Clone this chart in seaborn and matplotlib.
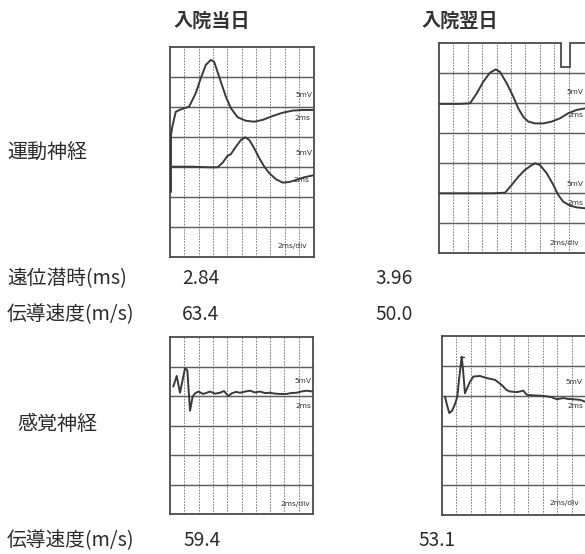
import matplotlib
matplotlib.use("Agg")
import matplotlib.pyplot as plt
import seaborn as sns
import pandas as pd

# --- 神経伝導検査データ (横軸: ms, 縦軸: 目盛り) ---
days = ["入院当日", "入院翌日"]
row_labels = ["運動神経", "感覚神経"]
latency_ms = ["2.84", "3.96"]
motor_cv = ["63.4", "50.0"]
sensory_cv = ["59.4", "53.1"]

# 運動神経 入院当日
m0_artifact_t = [0.10, 0.10]
m0_artifact_v = [4.00, 2.17]
m0_top_t = [0.10, 0.32, 0.80, 1.50, 2.66, 3.59, 4.29, 4.99, 5.69, 6.15, 6.85, 7.79,
            8.49, 9.41, 10.59, 11.75, 12.91, 14.31, 15.71, 17.10, 18.50, 19.90]
m0_top_v = [4.01, 4.34, 4.84, 4.92, 5.01, 5.46, 5.96, 6.40, 6.57, 6.51, 6.01, 5.34,
            4.96, 4.66, 4.54, 4.51, 4.57, 4.70, 4.81, 4.88, 4.90, 4.90]
m0_bot_t = [0.32, 3.12, 5.45, 6.62, 7.32, 8.02, 8.49, 9.19, 9.89, 10.49, 11.05, 11.75,
            12.45, 13.15, 13.85, 14.78, 15.71, 16.64, 17.58, 18.74, 19.90]
m0_bot_v = [3.01, 3.01, 2.99, 2.99, 3.14, 3.37, 3.43, 3.68, 3.90, 3.99, 3.90, 3.62,
            3.29, 3.01, 2.79, 2.59, 2.48, 2.50, 2.57, 2.66, 2.72]

# 運動神経 入院翌日
m1_top_t = [0.04, 1.53, 2.92, 4.31, 5.24, 6.15, 7.08, 7.88, 8.47, 9.40, 10.32, 11.01,
            11.71, 12.40, 13.33, 14.49, 15.65, 16.81, 17.96, 19.13, 20.28]
m1_top_v = [4.97, 4.97, 4.97, 4.99, 5.32, 5.71, 6.01, 6.12, 6.04, 5.66, 5.21, 4.82,
            4.54, 4.38, 4.32, 4.32, 4.38, 4.49, 4.66, 4.77, 4.82]
m1_bot_t = [0.04, 3.85, 7.54, 9.17, 10.10, 11.01, 11.94, 12.88, 13.33, 14.03, 14.96,
            15.88, 16.57, 17.26, 18.19, 19.13, 20.28]
m1_bot_v = [1.99, 1.99, 1.99, 2.01, 2.27, 2.54, 2.77, 2.93, 2.99, 2.93, 2.66,
            2.27, 1.93, 1.71, 1.58, 1.52, 1.49]

# 感覚神経 入院当日
s0_t = [0.46, 0.94, 1.40, 2.10, 2.42, 2.80, 3.17, 3.50, 3.96, 4.66, 5.59, 6.29, 6.99,
        7.55, 8.15, 8.63, 9.23, 9.79, 10.49, 11.19, 11.89, 12.59, 13.29, 13.99, 14.69,
        15.38, 16.32, 16.92, 17.72, 18.32, 19.12, 20.00]
s0_v = [4.32, 4.68, 4.11, 4.94, 4.88, 3.50, 3.98, 4.09, 4.15, 4.07, 4.15, 4.08, 4.11,
        4.17, 4.00, 4.09, 4.14, 4.11, 4.15, 4.18, 4.12, 4.15, 4.10, 4.11, 4.08,
        4.07, 4.07, 4.10, 4.11, 4.15, 4.18, 4.15]

# 感覚神経 入院翌日
s1_t = [0.42, 0.69, 1.01, 1.39, 1.81, 2.13, 2.36, 2.74, 2.92, 3.19, 3.79, 4.35, 5.28,
        6.21, 7.36, 8.29, 8.96, 9.44, 10.38, 10.83, 11.29, 11.76, 12.64, 13.61, 14.44,
        15.24, 15.93, 16.85, 17.50, 18.24, 19.17, 19.86]
s1_v = [3.97, 3.69, 3.42, 3.49, 3.72, 3.97, 4.53, 5.30, 4.87, 4.08, 4.42, 4.64, 4.66,
        4.59, 4.53, 4.36, 4.19, 4.14, 4.12, 4.14, 4.17, 4.03, 4.01, 4.00, 3.98,
        3.95, 3.88, 3.92, 3.89, 3.88, 3.86, 3.80]

W, H = 585, 554
INK = "#2b2b2b"
TRACE = "#3a3a3a"
FRAME = "#4a4a4a"


def px_axes(fig, left, top, right, bottom):
    return fig.add_axes([left / W, 1 - bottom / H, (right - left) / W, (bottom - top) / H])


def draw_grid(ax, nrows, xmax):
    ax.set_xlim(0, xmax)
    ax.set_ylim(0, nrows)
    ax.set_xticks([])
    ax.set_yticks([])
    for sp in ax.spines.values():
        sp.set_visible(True)
        sp.set_color(FRAME)
        sp.set_linewidth(1.3)
    ax.vlines(range(2, 20, 2), 0, nrows, colors="#858585", linewidth=0.75,
              linestyles=(0, (1.6, 1.2)), zorder=1)
    ax.hlines(range(1, nrows), 0, xmax, colors="#5e5e5e", linewidth=1.05, zorder=1)


def trace(ax, t, v):
    df = pd.DataFrame({"t": t, "v": v})
    sns.lineplot(data=df, x="t", y="v", ax=ax, sort=False, estimator=None,
                 color=TRACE, linewidth=1.4, zorder=3)
    ax.set_xlabel("")
    ax.set_ylabel("")


def small(ax, x, y, s):
    ax.text(x, y, s, fontsize=5.4, color="#333333", ha="center", va="center",
            family=["DejaVu Sans"], zorder=4)


sns.set_style("white")
plt.rcParams["font.family"] = ["Noto Sans CJK JP", "DejaVu Sans"]

fig = plt.figure(figsize=(W / 100, H / 100), dpi=100)
fig.patch.set_facecolor("white")

# パネル1: 運動神経 入院当日
ax1 = px_axes(fig, 170, 47, 313.5, 257)
draw_grid(ax1, 7, 20)
trace(ax1, m0_artifact_t, m0_artifact_v)
trace(ax1, m0_top_t, m0_top_v)
trace(ax1, m0_bot_t, m0_bot_v)
small(ax1, 18.7, 5.40, "5mV")
small(ax1, 18.5, 4.63, "2ms")
small(ax1, 18.7, 3.48, "5mV")
small(ax1, 18.3, 2.57, "2ms")
small(ax1, 17.1, 0.37, "2ms/div")

# パネル2: 運動神経 入院翌日 (上枠に切り欠きあり)
ax2 = px_axes(fig, 439, 43, 589, 253)
xmax2 = 20 * 150 / 144
draw_grid(ax2, 7, xmax2)
ax2.spines["top"].set_visible(False)
ax2.plot([0, 16.9, 16.9, 18.2, 18.2, xmax2], [7.0, 7.0, 6.21, 6.21, 7.0, 7.0],
         color=FRAME, lw=1.3, zorder=2, clip_on=False, solid_joinstyle="miter")
ax2.fill_between([16.95, 18.15], 6.26, 6.99, color="white", zorder=1.5)
trace(ax2, m1_top_t, m1_top_v)
trace(ax2, m1_bot_t, m1_bot_v)
small(ax2, 18.9, 5.37, "5mV")
small(ax2, 19.0, 4.60, "2ms")
small(ax2, 18.9, 2.30, "5mV")
small(ax2, 19.0, 1.67, "2ms")
small(ax2, 17.4, 0.33, "2ms/div")

# パネル3: 感覚神経 入院当日
ax3 = px_axes(fig, 170, 337, 313, 514)
draw_grid(ax3, 6, 20)
trace(ax3, s0_t, s0_v)
small(ax3, 18.6, 4.50, "5mV")
small(ax3, 18.6, 3.66, "2ms")
small(ax3, 17.5, 0.34, "2ms/div")

# パネル4: 感覚神経 入院翌日
ax4 = px_axes(fig, 442, 336, 589, 515)
draw_grid(ax4, 6, 20 * 147 / 144)
trace(ax4, s1_t, s1_v)
ax4.plot([2.5, 3.1], [5.31, 5.31], color=TRACE, lw=1.0, zorder=3)
small(ax4, 18.3, 4.46, "5mV")
small(ax4, 18.5, 3.66, "2ms")
small(ax4, 17.0, 0.40, "2ms/div")


def ftext(x, y, s, size=14.2, weight="normal", ha="left", color=INK):
    fig.text(x / W, 1 - y / H, s, fontsize=size, fontweight=weight, color=color,
             ha=ha, va="center")


ftext(212, 21, days[0], size=13.8, weight="bold", ha="center", color="#333333")
ftext(460, 21, days[1], size=13.8, weight="bold", ha="center", color="#333333")
ftext(7, 152, row_labels[0], size=14.4)
ftext(17, 425, row_labels[1], size=14.4)

ftext(7, 279, "遠位潜時(ms)")
ftext(182, 279, latency_ms[0], size=13.8)
ftext(375, 279, latency_ms[1], size=13.8)
ftext(7, 315, "伝導速度(m/s)")
ftext(182, 315, motor_cv[0], size=13.8)
ftext(375, 315, motor_cv[1], size=13.8)
ftext(7, 541, "伝導速度(m/s)")
ftext(183, 541, sensory_cv[0], size=13.8)
ftext(418, 541, sensory_cv[1], size=13.8)

fig.savefig("out.png", dpi=100, facecolor="white")
